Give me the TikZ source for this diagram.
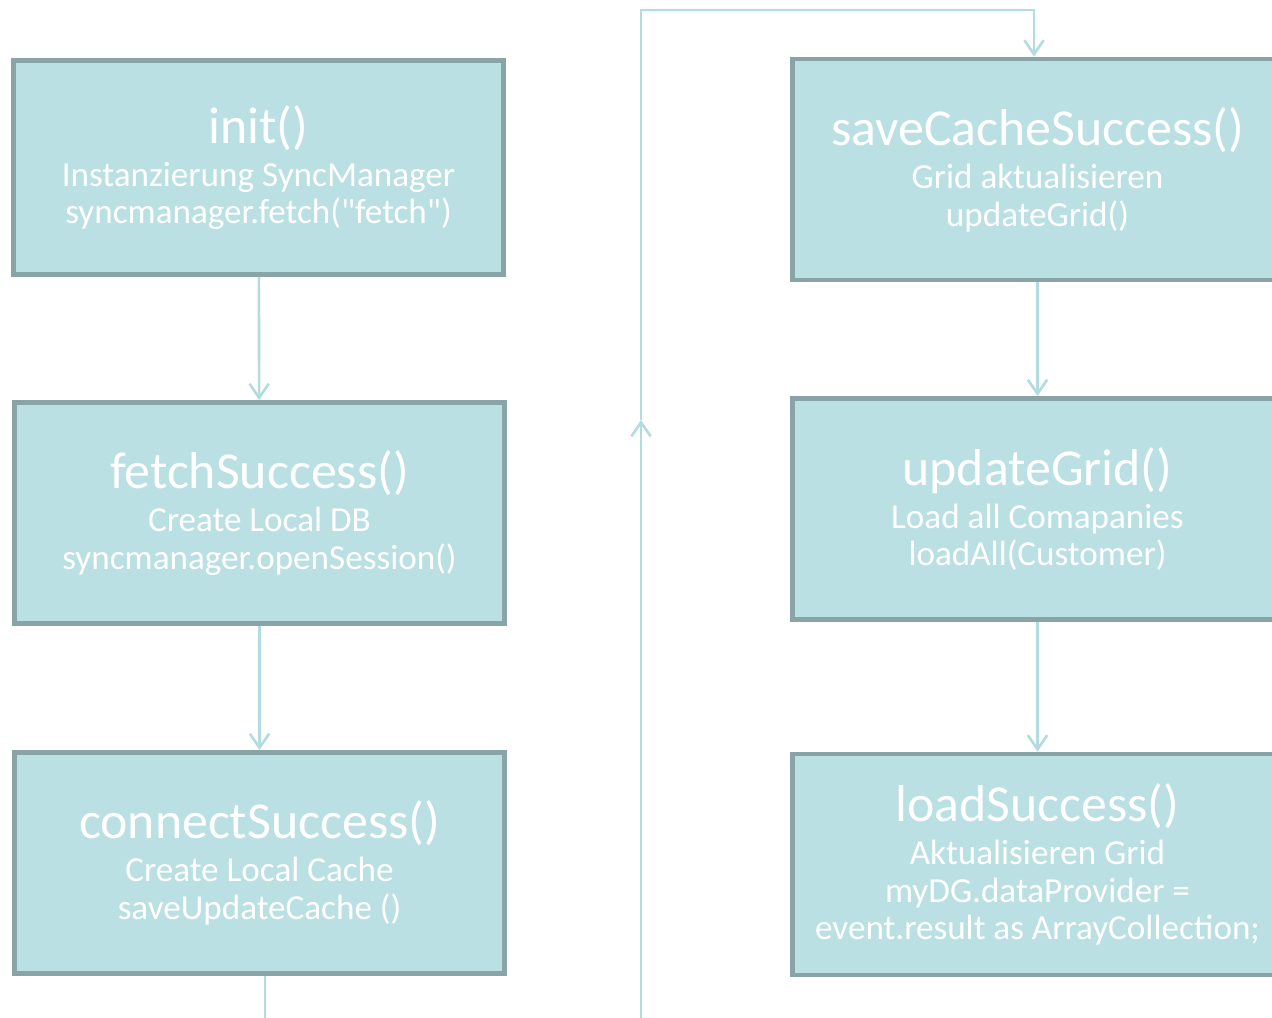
\documentclass[tikz,border=0pt]{standalone}
\usepackage{fontspec}
\setmainfont{Carlito}[Ligatures=TeXOff]
\usetikzlibrary{arrows.meta}
\definecolor{boxfill}{HTML}{BBE0E3}
\definecolor{boxline}{HTML}{88A4A6}
\definecolor{linkline}{HTML}{B3DCE0}
\newcommand{\calltitle}[1]{{\fontsize{29.5}{32}\selectfont #1}\\[3pt]}
\begin{document}
\begin{tikzpicture}[x=0.02cm, y=-0.02cm,
  main/.style = {draw=boxline, fill=boxfill, line width=2.8pt, minimum width=9.8cm, minimum height=4.42cm, align=center, text=white, font=\fontsize{20}{21.5}\selectfont},
  link/.style = {draw=linkline, line width=1.5pt, -{Straight Barb[length=8pt, width=11pt, line width=1.5pt]}},
  plain/.style = {draw=linkline, line width=1.5pt}]
\useasboundingbox (0,0) rectangle (1272,1018);
\node[main, minimum height=4.28cm] (1) at (258.5,167.5) {\calltitle{init()}Instanzierung SyncManager\\syncmanager.fetch("fetch")};
\node[main] (2) at (259.5,513) {\calltitle{fetchSuccess()}Create Local DB\\syncmanager.openSession()};
\node[main] (3) at (259.5,863) {\calltitle{connectSuccess()}Create Local Cache\\saveUpdateCache ()};
\node[main] (4) at (1037.5,169.5) {\calltitle{saveCacheSuccess()}Grid aktualisieren\\updateGrid()};
\node[main] (5) at (1037.5,509) {\calltitle{updateGrid()}Load all Comapanies\\loadAll(Customer)};
\node[main] (6) at (1037.5,864.5) {\calltitle{loadSuccess()}Aktualisieren Grid\\myDG.dataProvider =\\event.result as ArrayCollection;};
\coordinate (out) at (265,1018);
\coordinate (back) at (641,1018);
\coordinate (mid) at (641,420);
\coordinate (top) at (641,10);
\draw[link] (1) -- (2);
\draw[link] (2) -- (3);
\draw[plain] (3.south -| out) -- (out);
\draw[link] (back) -- (mid);
\draw[link] (mid) -- (top) -| ([xshift=-0.07cm]4.north);
\draw[link] (4) -- (5);
\draw[link] (5) -- (6);
\end{tikzpicture}
\end{document}
